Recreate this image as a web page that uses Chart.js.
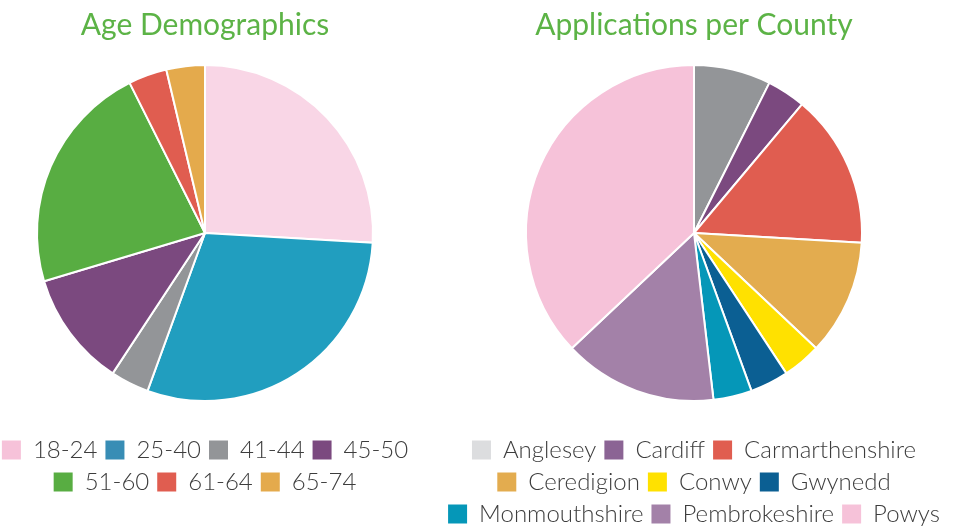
<!DOCTYPE html>
<html>
<head>
<meta charset="utf-8">
<script src="https://cdn.jsdelivr.net/npm/chart.js@4/dist/chart.umd.min.js"></script>
<style>
  html, body { margin: 0; padding: 0; background: #ffffff; width: 956px; height: 529px; overflow: hidden; }
  #wrap { position: relative; width: 956px; height: 529px; overflow: hidden; }
  canvas { position: absolute; top: 0; }
  #ageChart { left: -15px; }
  #countyChart { left: 424px; }
</style>
</head>
<body>
<div id="wrap">
  <canvas id="ageChart" width="440" height="536"></canvas>
  <canvas id="countyChart" width="540" height="536"></canvas>
</div>
<script>
const ageTitle = 'Age Demographics';
const ageLabels = ['18-24', '25-40', '41-44', '45-50', '51-60', '61-64', '65-74'];
const ageValues = [7, 8, 1, 3, 6, 1, 1];
const ageColors = ['#f9d6e6', '#219ebf', '#939598', '#7b497f', '#58ad42', '#e05d50', '#e4aa4c'];
const ageLegendColors = ['#f6c2d9', '#388db5', '#939598', '#7b497f', '#58ad42', '#e05d50', '#e4aa4c'];

const countyTitle = 'Applications per County';
const countyLabels = ['Anglesey', 'Cardiff', 'Carmarthenshire', 'Ceredigion', 'Conwy', 'Gwynedd', 'Monmouthshire', 'Pembrokeshire', 'Powys'];
const countyValues = [2, 1, 4, 3, 1, 1, 1, 4, 10];
const countyColors = ['#939598', '#7b497f', '#e05d50', '#e3ac4f', '#ffe100', '#0b5f93', '#0597b8', '#a381a8', '#f6c2d9'];
const countyLegendColors = ['#dcdddf', '#8b6494', '#e05d50', '#e3ac4f', '#ffe100', '#0b5f93', '#0597b8', '#a381a8', '#f6c2d9'];

const FONT = "Lato, 'Open Sans', sans-serif";
const TITLE_GREEN = '#5cb346';
const TEXT_GREY = '#3d3d3d';

function makePie(id, title, labels, values, colors, legendColors, bottomPad) {
  const baseGen = Chart.overrides.pie.plugins.legend.labels.generateLabels;
  return new Chart(document.getElementById(id), {
    type: 'pie',
    data: {
      labels: labels,
      datasets: [{
        data: values,
        backgroundColor: colors,
        borderColor: '#ffffff',
        borderWidth: 2,
        hoverOffset: 0
      }]
    },
    options: {
      responsive: false,
      animation: false,
      devicePixelRatio: 1,
      radius: 168,
      layout: { padding: { top: 0, bottom: bottomPad, left: 0, right: 0 } },
      plugins: {
        tooltip: { enabled: false },
        title: {
          display: true,
          text: title,
          color: TITLE_GREEN,
          font: { family: FONT, size: 30, weight: 'normal', lineHeight: 0.7 },
          padding: { top: 14.5, bottom: 0.5 }
        },
        legend: {
          display: true,
          position: 'bottom',
          labels: {
            color: TEXT_GREY,
            font: { family: FONT, size: 24, weight: 300 },
            boxWidth: 19,
            boxHeight: 19,
            padding: 8,
            generateLabels: function (chart) {
              const items = baseGen(chart);
              items.forEach((it, i) => {
                it.fillStyle = legendColors[i];
                it.strokeStyle = legendColors[i];
                it.lineWidth = 0;
              });
              return items;
            }
          }
        }
      }
    }
  });
}

makePie('ageChart', ageTitle, ageLabels, ageValues, ageColors, ageLegendColors, 32);
makePie('countyChart', countyTitle, countyLabels, countyValues, countyColors, countyLegendColors, 0);
</script>
</body>
</html>
